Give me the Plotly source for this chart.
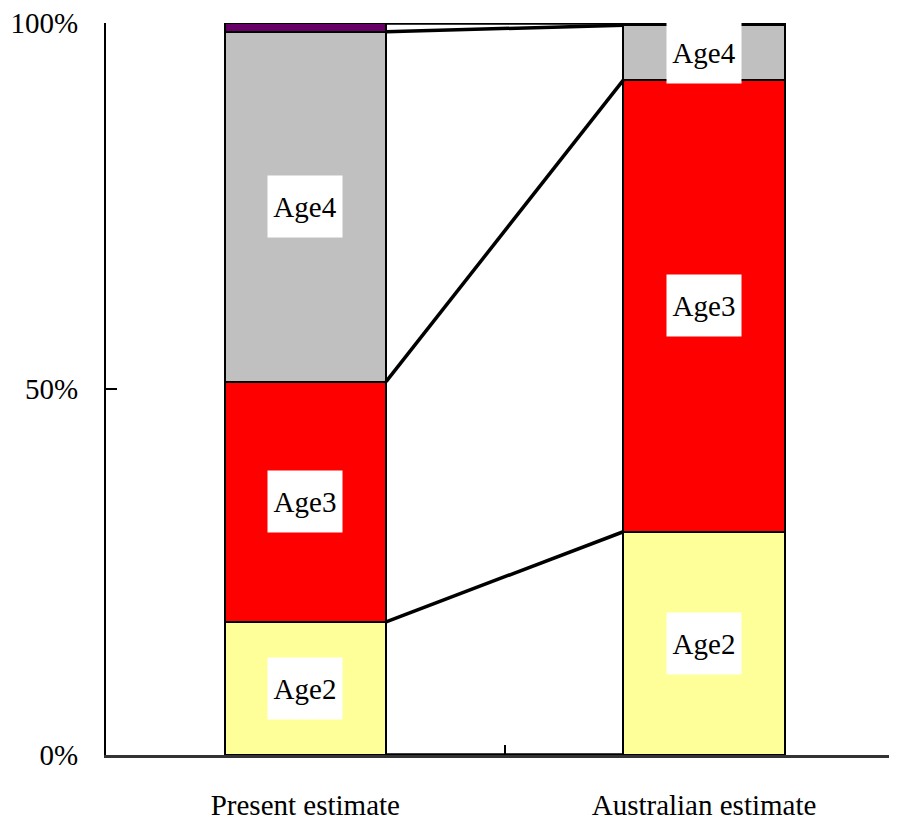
import plotly.graph_objects as go

categories = ["Present estimate", "Australian estimate"]
age_names = ["Age2", "Age3", "Age4", "Age5"]
age2 = [18.2, 30.5]
age3 = [32.8, 61.7]
age4 = [47.8, 7.5]
age5 = [1.2, 0.3]
colors = ["#FFFF99", "#FF0000", "#C0C0C0", "#660066"]
y_tickvals = [0, 50, 100]
y_ticktext = ["0%", "50%", "100%"]

series = [age2, age3, age4, age5]
xpos = [0, 1]
bar_w = 0.405
font = "Times New Roman"

fig = go.Figure()
for name, vals, col in zip(age_names, series, colors):
    fig.add_trace(go.Bar(
        x=xpos, y=vals, name=name, width=bar_w,
        marker=dict(color=col, line=dict(color="black", width=2)),
        hoverinfo="skip",
    ))

# series (connector) lines between stacked tops
cum = [[0.0, 0.0]]
for vals in series:
    prev = cum[-1]
    cum.append([prev[0] + vals[0], prev[1] + vals[1]])
for level in cum:
    fig.add_trace(go.Scatter(
        x=[xpos[0] + bar_w / 2, xpos[1] - bar_w / 2], y=level,
        mode="lines", line=dict(color="black", width=3.5),
        hoverinfo="skip", showlegend=False,
    ))

annotations = []
for i, name in enumerate(age_names[:3]):
    for j in range(2):
        mid = (cum[i][j] + cum[i + 1][j]) / 2
        annotations.append(dict(
            x=xpos[j], y=mid, xref="x", yref="y", text=name, showarrow=False,
            font=dict(family=font, size=29, color="black"),
            bgcolor="white", width=74, height=61, borderpad=0,
        ))

fig.update_layout(
    barmode="stack",
    width=889, height=813,
    margin=dict(l=98, r=0, t=15, b=66),
    plot_bgcolor="white", paper_bgcolor="white",
    showlegend=False,
    annotations=annotations,
    font=dict(family=font, size=29, color="black"),
    xaxis=dict(
        range=[-0.5, 1.484], tickvals=xpos, ticktext=categories,
        ticks="", showline=True, linecolor="#333333", linewidth=3,
        showgrid=False, zeroline=False, ticklabelstandoff=22,
        minor=dict(tickvals=[0.5], ticks="inside", ticklen=10, tickwidth=2, tickcolor="black"),
        tickfont=dict(family=font, size=29, color="black"),
    ),
    yaxis=dict(
        range=[0, 100], tickvals=y_tickvals, ticktext=y_ticktext,
        ticks="inside", ticklen=11, tickwidth=2, tickcolor="black",
        showline=True, linecolor="black", linewidth=2,
        showgrid=False, zeroline=False, ticklabelstandoff=20,
        ticklabeloverflow="allow",
        tickfont=dict(family=font, size=29, color="black"),
    ),
)

fig.write_html("out.html")
